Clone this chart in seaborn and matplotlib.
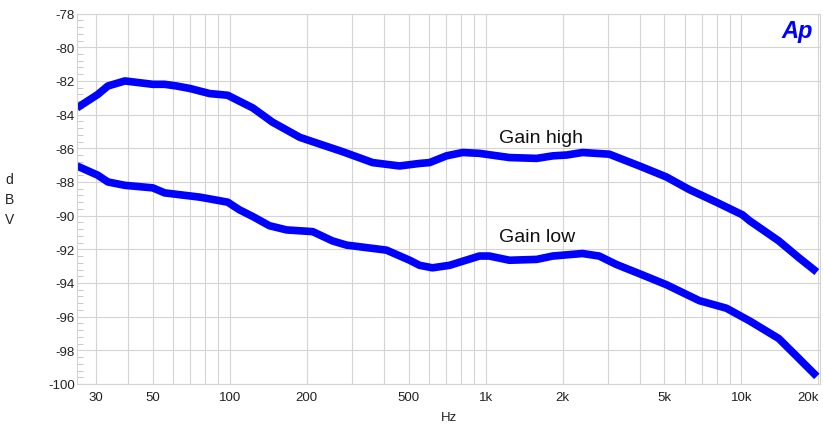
import numpy as np
import pandas as pd
import matplotlib
matplotlib.use("Agg")
import matplotlib.pyplot as plt
from matplotlib.ticker import FixedLocator, MultipleLocator, NullFormatter
import seaborn as sns

# data (Hz, dBV)
freq_high = [25.3, 30.5, 33.4, 38.9, 50, 55.7, 62, 70, 83.5, 98.2, 109, 123, 147, 188, 225, 276,
             362, 461, 552, 604, 703, 813, 946, 1240, 1584, 1831, 2075, 2392, 3045, 3995, 5087,
             6254, 7980, 10090, 10760, 14000, 16780, 19720]
dbv_high = [-83.6, -82.8, -82.3, -82.0, -82.2, -82.2, -82.3, -82.45, -82.75, -82.85, -83.2, -83.6,
            -84.45, -85.35, -85.75, -86.2, -86.85, -87.05, -86.9, -86.85, -86.45, -86.25, -86.3,
            -86.55, -86.6, -86.45, -86.4, -86.25, -86.35, -87.05, -87.7, -88.45, -89.2, -89.95,
            -90.3, -91.5, -92.5, -93.35]

freq_low = [25.3, 30.5, 33.4, 38.9, 50, 55.7, 76.3, 98.2, 109, 123, 143, 167, 211, 252, 286, 410,
            505, 552, 620, 724, 946, 1035, 1240, 1584, 1831, 2392, 2781, 3245, 3995, 5087, 6849,
            8740, 10760, 14000, 16310, 19720]
dbv_low = [-87.05, -87.6, -88.0, -88.2, -88.35, -88.65, -88.9, -89.2, -89.65, -90.05, -90.6,
           -90.85, -90.95, -91.5, -91.75, -92.05, -92.65, -92.95, -93.1, -92.95, -92.4, -92.4,
           -92.65, -92.6, -92.4, -92.25, -92.4, -92.9, -93.45, -94.1, -95.05, -95.5, -96.25,
           -97.3, -98.3, -99.55]

xtick_vals = [30, 50, 100, 200, 500, 1000, 2000, 5000, 10000, 20000]
xtick_text = ["30", "50", "100", "200", "500", "1k", "2k", "5k", "10k", "20k"]
ytick_vals = list(range(-100, -77, 2))

sns.set_theme(style="white")
plt.rcParams['font.family'] = ['Liberation Sans', 'DejaVu Sans']

df_high = pd.DataFrame({"Hz": freq_high, "dBV": dbv_high})
df_low = pd.DataFrame({"Hz": freq_low, "dBV": dbv_low})

fig = plt.figure(figsize=(8.23, 4.27), dpi=100)
ax = fig.add_axes([0.0936, 0.0984, 0.9028, 0.8674])

line_kw = dict(color="#0000ff", linewidth=5.5, solid_joinstyle="round", solid_capstyle="butt")
sns.lineplot(data=df_high, x="Hz", y="dBV", ax=ax, **line_kw)
sns.lineplot(data=df_low, x="Hz", y="dBV", ax=ax, **line_kw)

ax.set_xscale("log")
ax.set_xlim(25.3, 20300)
ax.set_ylim(-100, -78)

# grid on every decade subdivision
grid_x = [v * d for d in (10, 100, 1000, 10000) for v in range(1, 10) if 25 < v * d < 20500]
ax.xaxis.set_major_locator(FixedLocator(xtick_vals))
ax.set_xticklabels(xtick_text)
ax.xaxis.set_minor_locator(FixedLocator(grid_x))
ax.xaxis.set_minor_formatter(NullFormatter())
ax.set_yticks(ytick_vals)
ax.set_yticklabels([str(v) for v in ytick_vals])
ax.yaxis.set_minor_locator(MultipleLocator(0.4))

ax.grid(True, which="major", color="#d4d4d4", linewidth=0.8)
ax.grid(True, which="minor", axis="x", color="#d4d4d4", linewidth=0.8)
ax.tick_params(axis="x", which="both", length=0, pad=5, labelsize=9.5, colors="#222222")
ax.tick_params(axis="y", which="major", length=0, pad=1.5, labelsize=9.5, colors="#222222")
ax.tick_params(axis="y", which="minor", direction="in", length=4, width=0.7, color="#c8c8c8", left=True)
ax.get_xticklabels()[-1].set_ha("right")
for s in ax.spines.values():
    s.set_color("#d4d4d4")
    s.set_linewidth(0.8)

ax.set_xlabel("Hz", fontsize=9.5, color="#222222", labelpad=6)
ax.set_ylabel("d\nB\nV", fontsize=10, color="#222222", rotation=0, linespacing=1.55,
              va="center", labelpad=28)

ax.text(1133, -85.38, "Gain high", fontsize=14, va="center", ha="left", color="#111111")
ax.text(1133, -91.26, "Gain low", fontsize=14, va="center", ha="left", color="#111111")
ax.text(0.991, 0.985, "Ap", transform=ax.transAxes, fontsize=17, fontweight="bold",
        fontstyle="italic", color="#0000ff", ha="right", va="top")

fig.savefig("out.png", dpi=100)
